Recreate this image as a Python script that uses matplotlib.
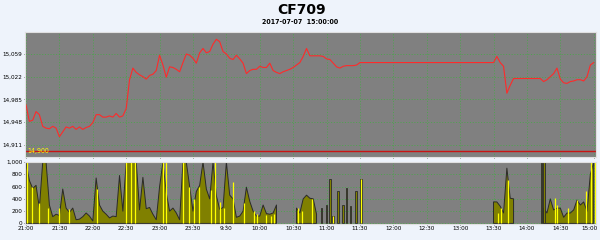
import numpy as np
import matplotlib
matplotlib.use("Agg")
import matplotlib.pyplot as plt
import matplotlib.transforms as mtransforms

# x axis: half-hour slots, one sample every 0.1 slot
tick_labels = ["21:00", "21:30", "22:00", "22:30", "23:00", "23:30", "9:30", "10:00",
               "10:30", "11:00", "11:30", "12:00", "12:30", "13:00", "13:30", "14:00",
               "14:30", "15:00"]

price = [14976, 14949, 14951, 14965, 14960, 14941, 14938, 14937, 14941, 14938,
         14924, 14932, 14940, 14938, 14941, 14936, 14940, 14936, 14939, 14941,
         14947, 14960, 14960, 14956, 14956, 14958, 14956, 14962, 14956, 14958,
         14970, 15017, 15036, 15029, 15025, 15022, 15018, 15024, 15026, 15032,
         15057, 15041, 15021, 15038, 15037, 15034, 15030, 15045, 15059, 15057,
         15052, 15044, 15061, 15068, 15061, 15063, 15075, 15083, 15079, 15063,
         15059, 15052, 15050, 15057, 15051, 15044, 15027, 15032, 15034, 15034,
         15039, 15037, 15037, 15044, 15032, 15029, 15027, 15030, 15032, 15034,
         15037, 15041, 15045, 15055, 15068, 15056, 15056, 15056, 15056, 15055,
         15051, 15050, 15044, 15038, 15036, 15039, 15040, 15040, 15040, 15041] \
        + [15045] * 40 \
        + [15045, 15055, 15045, 15039, 14995, 15008, 15019, 15019, 15019, 15019,
           15019, 15019, 15019, 15019, 15019, 15014, 15017, 15022, 15027, 15036,
           15018, 15012, 15011, 15014, 15015, 15017, 15017, 15015, 15022, 15041,
           15045]

nan = np.nan
volume = [1000, 700, 570, 620, 250, 1000, 1000, 300, 110, 150,
          130, 560, 250, 180, 250, 60, 70, 110, 170, 120,
          40, 740, 300, 200, 150, 90, 120, 110, 780, 200,
          1000, 1000, 1000, 1000, 220, 750, 240, 260, 150, 60,
          600, 1000, 500, 200, 250, 170, 60, 1000, 1000, 600,
          200, 520, 620, 1000, 560, 400, 1000, 450, 230, 260,
          1000, 460, 400, 100, 120, 200, 590, 360, 200, 120,
          120, 300, 160, 150, 170, 300, nan, nan, nan, nan,
          nan, 250, 170, 400, 460, 410, 400, 150, nan, nan] \
         + [nan] * 50 \
         + [350, 350, 280, 170, 900, 410, 400, nan, nan, nan,
            nan, nan, nan, nan, nan, 250, 170, 400, 220, 250,
            250, 100, 170, 170, 220, 380, 300, 350, 200, 800,
            1000]

spike_x = [8.85, 9.0, 9.1, 9.2, 9.35, 9.5, 9.6, 9.72, 9.88, 10.03, 15.44, 15.52]
spike_h = [250, 300, 730, 120, 520, 300, 575, 290, 520, 720, 1100, 1100]

yellow_x = [0.04, 0.19, 0.4, 0.67, 1.0, 1.3, 2.12, 3.0, 3.14, 3.26, 4.11, 4.18, 4.71,
            4.89, 5.04, 5.19, 5.53, 5.66, 5.81, 5.93, 6.21, 6.54, 6.83, 6.93, 7.2,
            7.33, 7.43, 8.15, 8.25, 8.55, 9.18, 10.03, 14.14, 14.22, 14.44, 15.84,
            15.91, 16.24, 16.49, 16.76, 16.93, 17.04]
yellow_h = [1000, 600, 330, 250, 250, 230, 560, 1000, 1000, 1000, 1000, 1000, 1000,
            600, 400, 600, 550, 1000, 350, 250, 680, 330, 200, 150, 130,
            120, 150, 250, 200, 400, 120, 720, 170, 250, 700, 410,
            300, 250, 380, 520, 1000, 1000]

price_ticks = [14911, 14948, 14985, 15022, 15059]
vol_ticks = [0, 200, 400, 600, 800, 1000]
base_price = 14900

xs = np.arange(len(price)) * 0.1
xv = np.arange(len(volume)) * 0.1
volume = np.array(volume, dtype=float)

plt.rcParams['font.family'] = 'DejaVu Sans'
plt.rcParams['font.stretch'] = 'condensed'
fig = plt.figure(figsize=(6, 2.4), dpi=100, facecolor="#eef3fb")
ax1 = fig.add_axes([0.0417, 0.346, 0.9517, 0.521])
ax2 = fig.add_axes([0.0417, 0.067, 0.9517, 0.258])

grid_kw = dict(color="#3cb03c", linestyle=(0, (1.5, 2.5)), linewidth=0.5)
for ax in (ax1, ax2):
    ax.set_facecolor("#808080")
    ax.set_xlim(-0.03, 17.07)
    ax.set_xticks(range(len(tick_labels)))
    ax.grid(True, **grid_kw)
    ax.set_axisbelow(True)
    for s in ax.spines.values():
        s.set_color("#e0e0e0")
        s.set_linewidth(0.8)
    ax.tick_params(length=1, width=0.6, color="#404040", labelsize=4.6, pad=0.8)

# price panel
ax1.plot(xs, price, color="#ff2a2a", lw=0.8)
ax1.axhline(base_price, color="#c81414", lw=1)
ax1.text(0.05, base_price + 1, "14,900", color="#ffff00", fontsize=5, va="center")
ax1.set_ylim(14891, 15095)
ax1.set_yticks(price_ticks)
ax1.set_yticklabels([f"{v:,}" for v in price_ticks])
ax1.set_xticklabels([])

# volume panel
ax2.fill_between(xv, 0, volume, facecolor="#808000", edgecolor="#2a2a2a", lw=0.7)
ax2.bar(spike_x, spike_h, width=0.05, color="#808000", edgecolor="#2a2a2a", lw=0.6)
ax2.vlines(yellow_x, 0, yellow_h, color="#ffff00", lw=0.9)
ax2.set_ylim(-8, 1000)
ax2.set_yticks(vol_ticks)
ax2.set_yticklabels([f"{v:,}" for v in vol_ticks])
ax2.set_xticklabels(tick_labels)
last = ax2.get_xticklabels()[-1]
last.set_transform(last.get_transform() +
                   mtransforms.ScaledTranslation(-4 / 100, 0, fig.dpi_scale_trans))

fig.text(0.503, 0.958, "CF709", ha="center", va="center", fontsize=10,
         fontweight="bold", fontstretch="normal")
fig.text(0.5, 0.908, "2017-07-07  15:00:00", ha="center", va="center", fontsize=5,
         fontweight="bold")

fig.savefig("out.png", dpi=100, facecolor=fig.get_facecolor())
